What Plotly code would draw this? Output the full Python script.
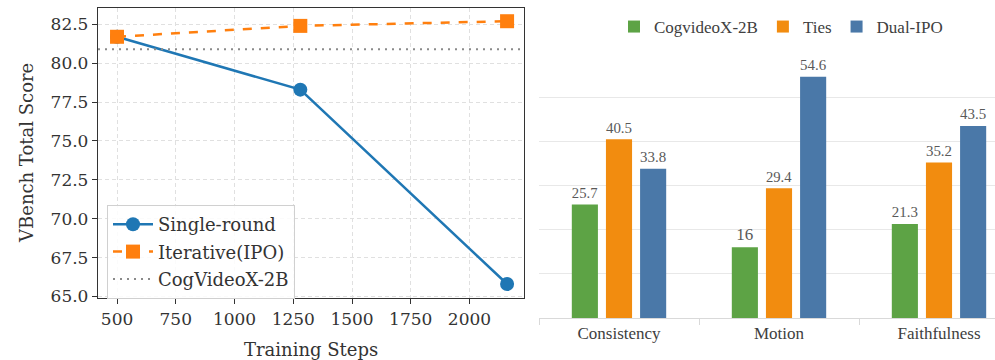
import plotly.graph_objects as go

# ---- data: left panel ----
steps = [500, 1280, 2160]
single_round = [81.7, 78.3, 65.8]
iterative_ipo = [81.7, 82.4, 82.7]
cog_baseline = 80.9
x_ticks = [500, 750, 1000, 1250, 1500, 1750, 2000]
y_ticks = [65.0, 67.5, 70.0, 72.5, 75.0, 77.5, 80.0, 82.5]
X_RANGE = [419, 2232]
Y_RANGE = [64.9, 83.55]

# ---- data: right panel ----
categories = ["Consistency", "Motion", "Faithfulness"]
cogvideox_2b = [25.7, 16, 21.3]
ties = [40.5, 29.4, 35.2]
dual_ipo = [33.8, 54.6, 43.5]

SERIF_L = "DejaVu Serif"
SERIF_R = "Liberation Serif"

fig = go.Figure()

fig.add_trace(go.Scatter(
    x=steps, y=single_round, mode="lines+markers", name="Single-round",
    line=dict(color="#1f77b4", width=2.5),
    marker=dict(symbol="circle", size=14, color="#1f77b4"),
    xaxis="x", yaxis="y", legend="legend", legendgroup="a"))
fig.add_trace(go.Scatter(
    x=steps, y=iterative_ipo, mode="lines+markers", name="Iterative(IPO)",
    line=dict(color="#ff7f0e", width=2.5, dash="dash"),
    marker=dict(symbol="square", size=14, color="#ff7f0e"),
    xaxis="x", yaxis="y", legend="legend", legendgroup="b"))
fig.add_trace(go.Scatter(
    x=X_RANGE, y=[cog_baseline, cog_baseline], mode="lines", name="CogVideoX-2B",
    line=dict(color="#8a8a8a", width=2, dash="2px,5px"),
    xaxis="x", yaxis="y", legend="legend", legendgroup="c"))

bar_colors = ["#5da345", "#f28c0f", "#4a78a8"]
for name, vals, col in zip(["CogvideoX-2B", "Ties", "Dual-IPO"],
                           [cogvideox_2b, ties, dual_ipo], bar_colors):
    fig.add_trace(go.Bar(
        x=categories, y=vals, name=name, marker=dict(color=col, line=dict(width=0)),
        text=[f"{v:g}" for v in vals], textposition="outside", cliponaxis=False,
        textfont=dict(family=SERIF_R, size=17, color="#595959"),
        xaxis="x2", yaxis="y2", legend="legend2"))

fig.update_layout(
    width=995, height=360, margin=dict(l=0, r=0, t=0, b=0, autoexpand=False),
    paper_bgcolor="white", plot_bgcolor="white",
    barmode="group", bargap=0.36, bargroupgap=0.235,
    xaxis=dict(domain=[98/995, 524/995], range=X_RANGE, tickvals=x_ticks,
               automargin=False,
               showline=True, mirror=True, linecolor="#333333", linewidth=1.3,
               ticks="outside", ticklen=5, tickcolor="#333333",
               showgrid=True, gridcolor="#e0e0e0", griddash="4px,3px", gridwidth=1,
               zeroline=False, tickfont=dict(family=SERIF_L, size=17, color="#333333")),
    yaxis=dict(domain=[1-298/360, 1-8/360], range=Y_RANGE, tickvals=y_ticks,
               automargin=False,
               tickformat=".1f", showline=True, mirror=True, linecolor="#333333",
               linewidth=1.3, ticks="outside", ticklen=5, tickcolor="#333333",
               showgrid=True, gridcolor="#e0e0e0", griddash="4px,3px", gridwidth=1,
               zeroline=False, tickfont=dict(family=SERIF_L, size=17, color="#333333")),
    xaxis2=dict(domain=[539/995, 1.0], range=[-0.5, 2.35], anchor="y2",
                automargin=False,
                type="category", tickson="boundaries", ticks="outside", ticklen=6,
                tickcolor="#d9d9d9", showline=True, linecolor="#d9d9d9", linewidth=1,
                showgrid=False, tickfont=dict(family=SERIF_R, size=17, color="#404040")),
    yaxis2=dict(domain=[1-318/360, 1-53/360], range=[0, 60], anchor="x2",
                automargin=False,
                dtick=10, showticklabels=False, showgrid=True, gridcolor="#e8e8e8",
                zeroline=False, showline=False, ticks=""),
    legend=dict(x=107/995, y=1-205/360, xanchor="left", yanchor="top",
                bgcolor="rgba(255,255,255,0.85)", bordercolor="#d0d0d0", borderwidth=1,
                itemwidth=40, tracegroupgap=1,
                font=dict(family=SERIF_L, size=18, color="#333333")),
    legend2=dict(orientation="h", x=781/995, y=1-27/360, xanchor="center",
                 yanchor="middle", itemwidth=30, bgcolor="rgba(0,0,0,0)",
                 font=dict(family=SERIF_R, size=17, color="#404040")),
    annotations=[
        dict(text="VBench Total Score", xref="paper", yref="paper", x=26/995,
             y=1-153/360, textangle=-90, showarrow=False, xanchor="center",
             yanchor="middle", font=dict(family=SERIF_L, size=18, color="#333333")),
        dict(text="Training Steps", xref="paper", yref="paper", x=311/995,
             y=1-349/360, showarrow=False, xanchor="center", yanchor="middle",
             font=dict(family=SERIF_L, size=18, color="#333333")),
    ],
)

fig.write_html("out.html", post_script="document.body.style.margin='0';",
               config={"displayModeBar": False})
